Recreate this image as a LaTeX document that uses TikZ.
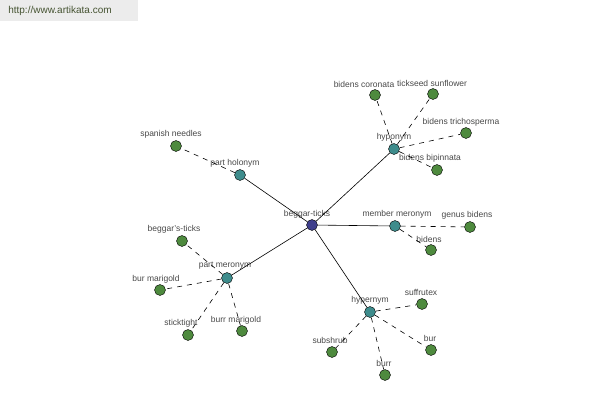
\documentclass[tikz,border=0pt]{standalone}
\usepackage{fontspec}
\setmainfont{Liberation Sans}
\usetikzlibrary{positioning}
\tikzset{rootnode/.style = {draw, fill=mblue, circle, inner sep = 0, minimum size = 11}}
\tikzset{relnode/.style = {draw, fill=mteal, circle, inner sep = 0, minimum size = 11}}
\tikzset{leafnode/.style = {draw, fill=mgreen, circle, inner sep = 0, minimum size = 11}}
\tikzset{lbl/.style = {text=mgray, inner sep = 0, font=\fontsize{8.5}{9}\selectfont}}
\tikzset{dashline/.style = {dash pattern = on 5 off 5, line width = 0.6}}
\definecolor{mblue}{RGB}{62, 62, 140}
\definecolor{mteal}{RGB}{62, 140, 140}
\definecolor{mgreen}{RGB}{78, 138, 62}
\definecolor{mgray}{RGB}{72, 72, 72}
\definecolor{mwater}{RGB}{236, 236, 236}
\definecolor{mwatertext}{RGB}{70, 84, 50}

\begin{document}
\begin{tikzpicture}[x = 1pt, y = -1pt]
      \useasboundingbox (0, 0) rectangle (600, 400);
      \fill[mwater] (0, 0) rectangle (138, 21);
      \node[text=mwatertext, font=\fontsize{10}{11}\selectfont] (site) at (60, 11) {http://www.artikata.com};
      % labels
      \node[lbl] (tcenter) at (307, 214) {beggar-ticks};
      \node[lbl] (thypo) at (394, 137) {hyponym};
      \node[lbl] (tholo) at (235, 163) {part holonym};
      \node[lbl] (tmember) at (397, 214) {member meronym};
      \node[lbl] (tpart) at (225, 266) {part meronym};
      \node[lbl] (thyper) at (370, 300) {hypernym};
      \node[lbl] (tcoro) at (364, 84) {bidens coronata};
      \node[lbl] (ttick) at (432, 83) {tickseed sunflower};
      \node[lbl] (ttrich) at (461, 122) {bidens trichosperma};
      \node[lbl] (tbipin) at (430, 158) {bidens bipinnata};
      \node[lbl] (tspan) at (171, 134) {spanish needles};
      \node[lbl] (tgenus) at (467, 215) {genus bidens};
      \node[lbl] (tbidens) at (429, 239) {bidens};
      \node[lbl] (tbeggar) at (174, 229) {beggar's-ticks};
      \node[lbl] (tbur) at (156, 279) {bur marigold};
      \node[lbl] (tstick) at (181, 323) {sticktight};
      \node[lbl] (tburr) at (236, 320) {burr marigold};
      \node[lbl] (tsuff) at (421, 292) {suffrutex};
      \node[lbl] (tbursh) at (430, 338) {bur};
      \node[lbl] (tburrsh) at (384, 363) {burr};
      \node[lbl] (tsub) at (330, 340) {subshrub};
      % nodes
      \node[rootnode] (center) at (312, 225) {};
      \node[relnode] (hypo) at (394, 149) {};
      \node[relnode] (holo) at (240, 175) {};
      \node[relnode] (member) at (395, 226) {};
      \node[relnode] (part) at (227, 278) {};
      \node[relnode] (hyper) at (370, 312) {};
      \node[leafnode] (coro) at (375, 95) {};
      \node[leafnode] (tick) at (433, 94) {};
      \node[leafnode] (trich) at (466, 133) {};
      \node[leafnode] (bipin) at (437, 170) {};
      \node[leafnode] (span) at (176, 146) {};
      \node[leafnode] (genus) at (470, 227) {};
      \node[leafnode] (bidens) at (431, 250) {};
      \node[leafnode] (beggar) at (182, 241) {};
      \node[leafnode] (bur) at (160, 290) {};
      \node[leafnode] (stick) at (188, 335) {};
      \node[leafnode] (burr) at (242, 331) {};
      \node[leafnode] (suff) at (422, 304) {};
      \node[leafnode] (bursh) at (431, 350) {};
      \node[leafnode] (burrsh) at (385, 375) {};
      \node[leafnode] (sub) at (332, 352) {};
      % edges
      \foreach \r in {hypo, holo, member, part, hyper} {
        \draw[line width = 0.6] (center) -- (\r);
      }
      \foreach \l in {coro, tick, trich, bipin} {
        \draw[dashline] (hypo) -- (\l);
      }
      \draw[dashline] (holo) -- (span);
      \foreach \l in {genus, bidens} {
        \draw[dashline] (member) -- (\l);
      }
      \foreach \l in {beggar, bur, stick, burr} {
        \draw[dashline] (part) -- (\l);
      }
      \foreach \l in {suff, bursh, burrsh, sub} {
        \draw[dashline] (hyper) -- (\l);
      }
    \end{tikzpicture}
\end{document}
